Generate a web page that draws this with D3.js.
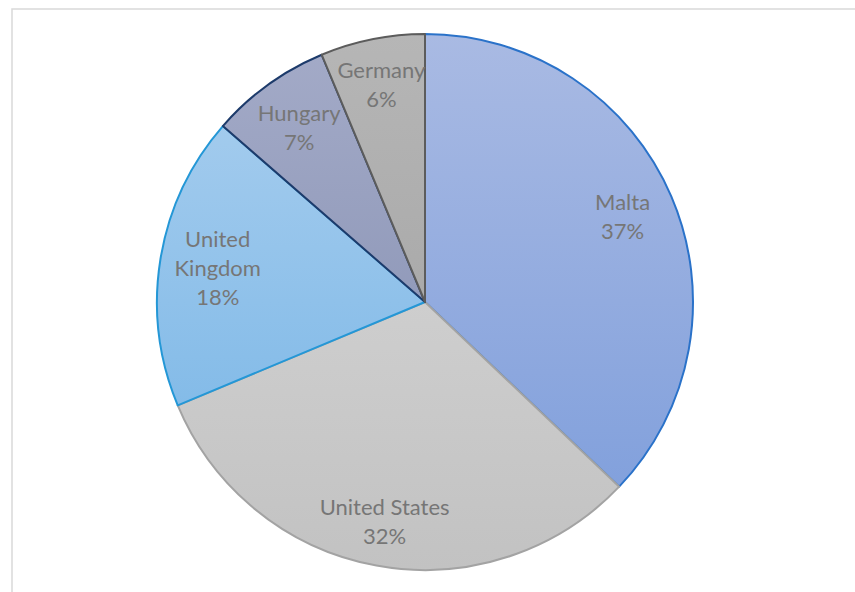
<!DOCTYPE html>
<html><head><meta charset="utf-8">
<script src="https://cdn.jsdelivr.net/npm/d3@7"></script>
<style>html,body{margin:0;padding:0;background:#fff;}</style>
</head><body>
<script>
const categories = ["Malta", "United States", "United Kingdom", "Hungary", "Germany"];
const values = [37.1, 31.6, 17.7, 7.3, 6.3];
const labelLines = [["Malta"], ["United States"], ["United", "Kingdom"], ["Hungary"], ["Germany"]];
const fillTop = ["#a9bae3", "#dadada", "#acd0ef", "#a4abc8", "#b6b6b6"];
const fillBottom = ["#7b9cdb", "#c2c2c2", "#72b2e5", "#7f8aad", "#9e9e9e"];
const strokes = ["#2a72c9", "#a3a3a3", "#2497d6", "#1d3b6b", "#5c5c5c"];

const W = 855, H = 592;
const cx = 425, cy = 302, R = 268;
const labelR = [215, 223, 210, 215, 222];
const svg = d3.select("body").append("svg").attr("width", W).attr("height", H);

svg.append("rect").attr("x", 12).attr("y", 9).attr("width", W + 20).attr("height", H + 20)
  .attr("fill", "#fff").attr("stroke", "#d9d9d9").attr("stroke-width", 1.5);

const defs = svg.append("defs");
categories.forEach((c, i) => {
  const gr = defs.append("linearGradient").attr("id", "g" + i)
    .attr("gradientUnits", "userSpaceOnUse")
    .attr("x1", 0).attr("y1", -R).attr("x2", 0).attr("y2", R);
  gr.append("stop").attr("offset", "0%").attr("stop-color", fillTop[i]);
  gr.append("stop").attr("offset", "100%").attr("stop-color", fillBottom[i]);
});

const data = categories.map((c, i) => ({ name: c, value: values[i], i }));
const pie = d3.pie().sort(null).value(d => d.value);
const arcs = pie(data);
const total = d3.sum(values);
const arc = d3.arc().innerRadius(0).outerRadius(R);

const g = svg.append("g").attr("transform", `translate(${cx},${cy})`);
g.selectAll("path").data(arcs).enter().append("path")
  .attr("d", arc)
  .attr("fill", d => `url(#g${d.data.i})`)
  .attr("stroke", d => strokes[d.data.i])
  .attr("stroke-width", 2)
  .attr("stroke-linejoin", "round");

const fmt = d3.format(".0%");
const lh = 29;
arcs.forEach(d => {
  const r = labelR[d.data.i];
  const [x, y] = d3.arc().innerRadius(r).outerRadius(r).centroid(d);
  const lines = labelLines[d.data.i].concat([fmt(d.data.value / total)]);
  const t = g.append("text").attr("text-anchor", "middle")
    .attr("font-family", "Lato, 'Open Sans', sans-serif").attr("font-size", 22)
    .attr("fill", "#767676");
  lines.forEach((ln, k) => {
    t.append("tspan").attr("x", x)
      .attr("y", y + (k - (lines.length - 1) / 2) * lh)
      .attr("dy", "0.35em").text(ln);
  });
});
</script>
</body></html>
